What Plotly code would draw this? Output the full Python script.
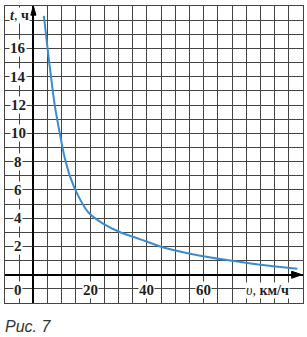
import plotly.graph_objects as go

# Data
speed_kmh = [3.7, 5.0, 6.2, 7.6, 9.3, 11.0, 13.0, 15.5, 19.4, 24.7, 30.6, 37.7, 44.7, 48.2, 58.8, 69.4, 80.0, 93.0]
time_h = [18.3, 16.0, 14.0, 11.9, 10.0, 8.3, 6.9, 5.7, 4.4, 3.6, 3.0, 2.5, 2.0, 1.8, 1.34, 1.0, 0.7, 0.42]

x_tick_vals = [20, 40, 60]
x_tick_text = ["20", "40", "60"]
y_tick_vals = [2, 4, 6, 8, 10, 12, 14, 16]
y_tick_text = ["2", "4", "6", "8", "10", "12", "14", "16"]

X_RANGE = [-10, 95]
Y_RANGE = [-2, 19]
LABEL_COL = -5.3
LABEL_ROW = -1.1

grid_color = "#444444"
text_color = "#1e1e1e"
font_num = dict(family="Liberation Serif", size=15, color=text_color)

fig = go.Figure()
fig.add_trace(go.Scatter(
    x=speed_kmh, y=time_h, mode="lines",
    line=dict(color="#3b8bd2", width=2, shape="spline", smoothing=1.0),
    hoverinfo="skip", showlegend=False,
))

annotations = []
for v, t in zip(x_tick_vals, x_tick_text):
    annotations.append(dict(x=v, y=LABEL_ROW, text="<b>%s</b>" % t, showarrow=False,
                            font=font_num, bgcolor="white", borderpad=0,
                            xanchor="center", yanchor="middle"))
annotations.append(dict(x=LABEL_COL, y=LABEL_ROW, text="<b>0</b>", showarrow=False,
                        font=font_num, bgcolor="white", borderpad=0,
                        xanchor="center", yanchor="middle"))
for v, t in zip(y_tick_vals, y_tick_text):
    annotations.append(dict(x=LABEL_COL, y=v, text="<b>%s</b>" % t, showarrow=False,
                            font=font_num, bgcolor="white", borderpad=0,
                            xanchor="center", yanchor="middle"))
annotations.append(dict(x=82.5, y=LABEL_ROW, text="<i>υ</i>, <b>км/ч</b>", showarrow=False,
                        font=dict(family="Liberation Serif", size=14, color=text_color),
                        bgcolor="white", borderpad=0, xanchor="center", yanchor="middle"))
annotations.append(dict(x=-5.0, y=18.35, text="<b><i>t</i></b>, <b>ч</b>", showarrow=False,
                        font=dict(family="Liberation Serif", size=14, color=text_color),
                        bgcolor="white", borderpad=0, xanchor="center", yanchor="middle"))
annotations.append(dict(x=0, y=0, xref="paper", yref="paper", xshift=-2, yshift=-13,
                        text="<i>Рис. 7</i>", showarrow=False,
                        font=dict(family="Liberation Sans", size=16, color="#333333"),
                        xanchor="left", yanchor="top"))

shapes = [
    # axis arrows
    dict(type="path", path="M -0.9 18.35 L 0 19.0 L 0.9 18.35 Z",
         fillcolor="black", line=dict(color="black", width=1), layer="above"),
    dict(type="path", path="M 91.0 0.25 L 94.6 0 L 91.0 -0.25 Z",
         fillcolor="black", line=dict(color="black", width=1), layer="above"),
]

fig.update_layout(
    width=307, height=337,
    margin=dict(l=5, r=4, t=6, b=34),
    paper_bgcolor="white", plot_bgcolor="white",
    annotations=annotations, shapes=shapes,
    xaxis=dict(range=X_RANGE, tick0=0, dtick=5, showgrid=True, gridcolor=grid_color,
               gridwidth=1, showticklabels=False, ticks="", zeroline=True,
               zerolinecolor="black", zerolinewidth=2, showline=True, mirror=True,
               linecolor=grid_color, linewidth=1, fixedrange=True),
    yaxis=dict(range=Y_RANGE, tick0=0, dtick=1, showgrid=True, gridcolor=grid_color,
               gridwidth=1, showticklabels=False, ticks="", zeroline=True,
               zerolinecolor="black", zerolinewidth=2, showline=True, mirror=True,
               linecolor=grid_color, linewidth=1, fixedrange=True),
)

fig.write_html("out.html", config=dict(displayModeBar=False))
